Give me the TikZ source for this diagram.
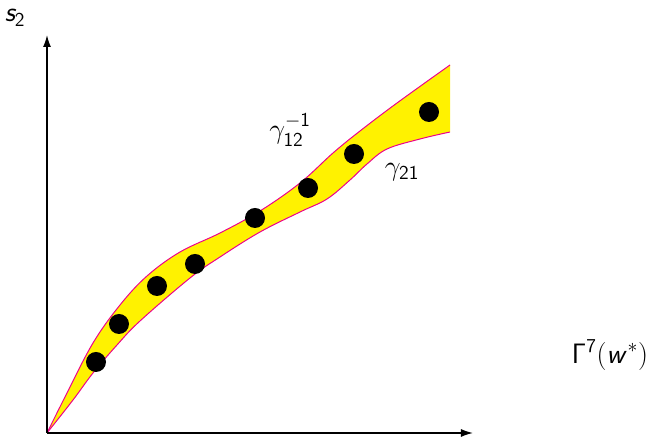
\RequirePackage{fix-cm}
\documentclass[tikz,border=0pt]{standalone}
\usepackage{amsmath}
\usepackage{xcolor}
\usepackage{tikz}
\usetikzlibrary{arrows.meta,positioning}
\DeclareMathAlphabet{\mathsfit}{OT1}{cmss}{m}{sl}

\begin{document}
\begin{tikzpicture}[x=0.025cm,y=0.025cm,font=\fontsize{20}{24}\selectfont,
   ax/.style={line width=1pt,-{Latex[length=3mm,width=2mm]}},
   edge/.style={magenta,line width=0.7pt},
   pt/.style={circle,fill=black,inner sep=0pt,minimum size=5mm}]
  \useasboundingbox (-47,-7) rectangle (613,433);
  % band between the two curves
  \fill[yellow] plot[smooth,tension=0.6] coordinates {(0,0) (20,40) (46,90) (73,128)
        (100,157) (133,181) (173,200) (213,222) (253,250) (286,280) (313,302)
        (350,330) (403,368)}
     -- plot[smooth,tension=0.6] coordinates {(403,301) (373,294) (340,284) (320,269)
        (303,253) (280,234) (253,221) (213,201) (173,176) (143,155) (93,112)
        (70,88) (46,60) (26,33) (0,0)} -- cycle;
  \draw[edge] plot[smooth,tension=0.6] coordinates {(0,0) (20,40) (46,90) (73,128)
        (100,157) (133,181) (173,200) (213,222) (253,250) (286,280) (313,302)
        (350,330) (403,368)};
  \draw[edge] plot[smooth,tension=0.6] coordinates {(0,0) (26,33) (46,60) (70,88)
        (93,112) (143,155) (173,176) (213,201) (253,221) (280,234) (303,253)
        (320,269) (340,284) (373,294) (403,301)};
  % axes
  \coordinate (o) at (0,0);
  \coordinate (xend) at (426,0);
  \coordinate (yend) at (0,398);
  \draw[ax] (o) -- (xend);
  \draw[ax] (o) -- (yend);
  \node (ylab) at (-32,415) {$\mathsfit{s}_{\mathsf{2}}$};
  \node (xlab) at (563,78) {$\mathsf{\Gamma}^{\mathsf{7}}(\mathsfit{w}^*)$};
  % curve labels
  \node (g12) at (243,303) {$\gamma_{\mathsf{12}}^{-\mathsf{1}}$};
  \node (g21) at (355,261) {$\gamma_{\mathsf{21}}$};
  % samples
  \foreach \px/\py [count=\i] in {49/71,72/109,110/147,148/169,208/215,261/245,307/279,382/321}
    \node[pt] (p\i) at (\px,\py) {};
\end{tikzpicture}
\end{document}
